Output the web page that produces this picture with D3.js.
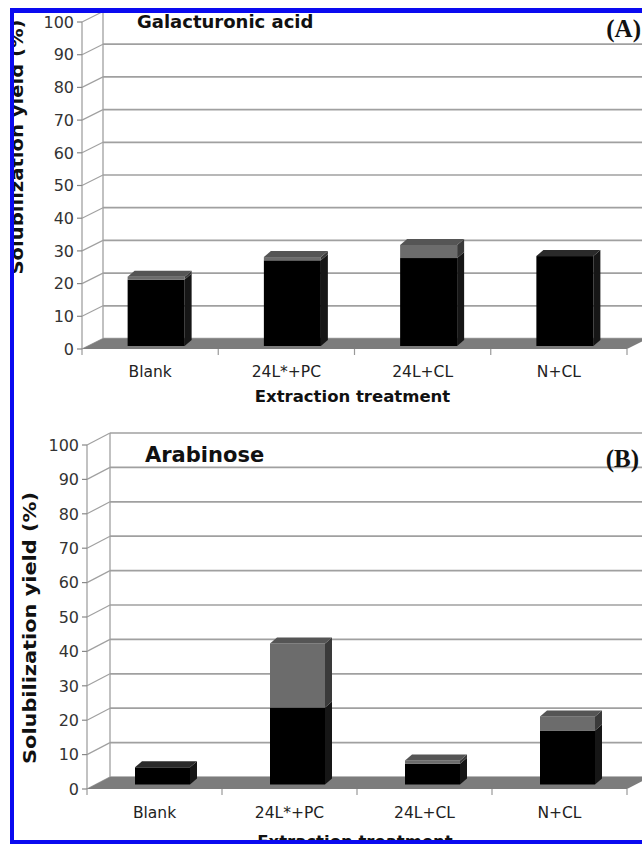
<!DOCTYPE html>
<html>
<head>
<meta charset="utf-8">
<script src="https://cdn.jsdelivr.net/npm/d3@7"></script>
<style>
  html, body { margin: 0; padding: 0; background: #fff; }
  svg { display: block; }
</style>
</head>
<body>
<svg id="chart" width="642" height="844"></svg>
<script>
// Treatments on the category axis
const categories = ["Blank", "24L*+PC", "24L+CL", "N+CL"];

// Galacturonic acid solubilization yield (%), two stacked contributions
const galacturonicLower = [20.3, 26.2, 26.9, 27.5];
const galacturonicUpper = [0.9, 1.0, 4.0, 0.0];

// Arabinose solubilization yield (%), two stacked contributions
const arabinoseLower = [5.0, 22.4, 6.0, 15.7];
const arabinoseUpper = [0.0, 18.6, 1.0, 4.1];

// Value axis ticks
const yTicks = [0, 10, 20, 30, 40, 50, 60, 70, 80, 90, 100];

const svg = d3.select("#chart");
const W = 642, H = 844;

// everything sits inside the blue frame
svg.append("defs").append("clipPath").attr("id", "frame")
  .append("rect").attr("x", 12).attr("y", 8).attr("width", W - 12).attr("height", H - 8);
const root = svg.append("g").attr("clip-path", "url(#frame)");
root.append("rect").attr("width", W).attr("height", H).attr("fill", "#fff");

const FONT = "'DejaVu Sans', Verdana, sans-serif";

// shading for each series: front, top and side faces
const shades = [
  { front: "#000000", top: "#2a2a2a", side: "#161616" },
  { front: "#6c6c6c", top: "#555555", side: "#3a3a3a" }
];

const panels = [
  {
    lower: galacturonicLower, upper: galacturonicUpper,
    x0: 82, x1: 627, y0: 349, y100: 22,
    wall: [21, -10.5], barOff: [6, -3], barDepth: [7, -6], barW: 57,
    tickRight: 74, catBase: 377, xTitleBase: 402,
    title: "Galacturonic acid", titleX: 137, titleY: 28, titleSize: 18,
    tag: "(A)", tagX: 641, tagY: 37,
    yTitleX: 23, yTitleY: 147, yTitleLen: 255
  },
  {
    lower: arabinoseLower, upper: arabinoseUpper,
    x0: 87, x1: 627, y0: 789, y100: 445,
    wall: [23, -12], barOff: [8, -4.5], barDepth: [7, -6], barW: 55,
    tickRight: 79, catBase: 818, xTitleBase: 847,
    title: "Arabinose", titleX: 145, titleY: 462, titleSize: 21,
    tag: "(B)", tagX: 639, tagY: 467,
    yTitleX: 36, yTitleY: 628, yTitleLen: 272
  }
];

const poly = pts => "M" + pts.map(p => p.join(",")).join("L") + "Z";

panels.forEach(p => {
  const g = root.append("g");
  const y = d3.scaleLinear().domain([0, 100]).range([p.y0, p.y100]);
  const x = d3.scaleBand().domain(categories).range([p.x0, p.x1]).padding(0);
  const [wx, wy] = p.wall;
  const gridColor = "#a0a0a0";

  // back wall grid lines
  g.selectAll(".grid").data(yTicks).join("line")
    .attr("x1", p.x0 + wx).attr("x2", p.x1 + wx + 20)
    .attr("y1", d => y(d) + wy).attr("y2", d => y(d) + wy)
    .attr("stroke", gridColor).attr("stroke-width", 1.7);

  // back wall left edge
  g.append("line")
    .attr("x1", p.x0 + wx).attr("x2", p.x0 + wx)
    .attr("y1", y(0) + wy).attr("y2", y(100) + wy)
    .attr("stroke", gridColor).attr("stroke-width", 1.3);

  // side wall diagonals
  g.selectAll(".diag").data(yTicks).join("line")
    .attr("x1", p.x0).attr("y1", d => y(d))
    .attr("x2", p.x0 + wx).attr("y2", d => y(d) + wy)
    .attr("stroke", gridColor).attr("stroke-width", 1.2);

  // front value axis with tick marks
  g.append("line")
    .attr("x1", p.x0).attr("x2", p.x0)
    .attr("y1", y(0)).attr("y2", y(100))
    .attr("stroke", "#999").attr("stroke-width", 1.2);
  g.selectAll(".ytick").data(yTicks).join("line")
    .attr("x1", p.x0 - 5).attr("x2", p.x0)
    .attr("y1", d => y(d)).attr("y2", d => y(d))
    .attr("stroke", "#888").attr("stroke-width", 1.2);
  g.selectAll(".ylab").data(yTicks).join("text")
    .attr("x", p.tickRight).attr("y", d => y(d))
    .attr("dy", "0.36em").attr("text-anchor", "end")
    .attr("font-family", FONT).attr("font-size", 16).attr("fill", "#333")
    .text(d => d);

  // floor
  g.append("path")
    .attr("d", poly([[p.x0, p.y0], [p.x1, p.y0], [p.x1 + wx, p.y0 + wy], [p.x0 + wx, p.y0 + wy]]))
    .attr("fill", "#7c7c7c");

  // category boundaries on the front edge
  const bounds = categories.map(c => x(c)).concat([p.x1]);
  g.selectAll(".xtick").data(bounds).join("line")
    .attr("x1", d => d).attr("x2", d => d)
    .attr("y1", p.y0).attr("y2", p.y0 + 6)
    .attr("stroke", "#999").attr("stroke-width", 1.2);

  // stacked 3D bars
  const [ox, oy] = p.barOff;
  const [bx, by] = p.barDepth;
  categories.forEach((c, i) => {
    const segs = [[0, p.lower[i]], [p.lower[i], p.lower[i] + p.upper[i]]];
    const left = x(c) + x.bandwidth() / 2 + ox - p.barW / 2;
    const right = left + p.barW;
    let topSeries = 0;
    segs.forEach((s, k) => {
      if (s[1] - s[0] <= 0) return;
      topSeries = k;
      const yb = y(s[0]) + oy, yt = y(s[1]) + oy;
      g.append("path")
        .attr("d", poly([[right, yb], [right + bx, yb + by], [right + bx, yt + by], [right, yt]]))
        .attr("fill", shades[k].side);
      g.append("rect")
        .attr("x", left).attr("y", yt)
        .attr("width", p.barW).attr("height", yb - yt)
        .attr("fill", shades[k].front);
    });
    const total = p.lower[i] + p.upper[i];
    const yt = y(total) + oy;
    g.append("path")
      .attr("d", poly([[left, yt], [right, yt], [right + bx, yt + by], [left + bx, yt + by]]))
      .attr("fill", shades[topSeries].top);
  });

  // category labels
  g.selectAll(".xlab").data(categories).join("text")
    .attr("x", d => x(d) + x.bandwidth() / 2).attr("y", p.catBase)
    .attr("text-anchor", "middle")
    .attr("font-family", FONT).attr("font-size", 15.5).attr("fill", "#222")
    .text(d => d);

  // axis titles
  g.append("text")
    .attr("x", (p.x0 + p.x1) / 2 - 2).attr("y", p.xTitleBase)
    .attr("text-anchor", "middle")
    .attr("font-family", FONT).attr("font-size", 16.5).attr("font-weight", "bold").attr("fill", "#111")
    .text("Extraction treatment");
  g.append("text")
    .attr("transform", `translate(${p.yTitleX},${p.yTitleY}) rotate(-90)`)
    .attr("text-anchor", "middle")
    .attr("textLength", p.yTitleLen).attr("lengthAdjust", "spacingAndGlyphs")
    .attr("font-family", FONT).attr("font-size", 18).attr("font-weight", "bold").attr("fill", "#111")
    .text("Solubilization yield (%)");

  // panel title and tag
  g.append("text")
    .attr("x", p.titleX).attr("y", p.titleY)
    .attr("font-family", FONT).attr("font-size", p.titleSize).attr("font-weight", "bold").attr("fill", "#111")
    .text(p.title);
  g.append("text")
    .attr("x", p.tagX).attr("y", p.tagY).attr("text-anchor", "end")
    .attr("font-family", "'Liberation Serif', 'Times New Roman', serif")
    .attr("font-size", 25).attr("font-weight", "bold").attr("fill", "#111")
    .text(p.tag);
});

// blue frame
svg.append("rect").attr("x", 10).attr("y", 8).attr("width", 4).attr("height", H - 8).attr("fill", "#0a0af0");
svg.append("rect").attr("x", 10).attr("y", 8).attr("width", W - 10).attr("height", 5).attr("fill", "#0a0af0");
svg.append("rect").attr("x", 10).attr("y", 840).attr("width", W - 10).attr("height", 4).attr("fill", "#0a0af0");
</script>
</body>
</html>
